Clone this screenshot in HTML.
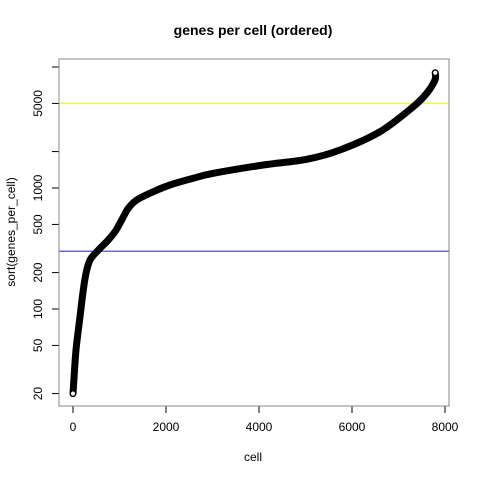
<!DOCTYPE html>
<html><head><meta charset="utf-8"><style>
body{margin:0;background:#fff}
svg{display:block;font-family:"Liberation Sans",sans-serif}
</style></head><body>
<svg id="chart" width="480" height="480" viewBox="0 0 480 480" xmlns="http://www.w3.org/2000/svg">
<rect width="480" height="480" fill="#fff"/>
<text x="253" y="35" text-anchor="middle" font-size="14" font-weight="bold">genes per cell (ordered)</text>
<text x="253" y="461" text-anchor="middle" font-size="12">cell</text>
<text transform="translate(15,232) rotate(-90)" text-anchor="middle" font-size="12">sort(genes_per_cell)</text>
<g id="plot"></g>
<rect x="59" y="59" width="390" height="347" fill="none" stroke="#888" stroke-width="1"/>
</svg>
<script>
const idx = [0,20,65,151,222,280,366,544,725,903,1047,1189,1370,1727,2086,2587,3017,4092,5026,5742,6602,7318,7606,7785,7790];
const genes = [20,26,45.8,86.3,143.5,197,254,307,360,435,544,680,796,932,1059,1203,1323,1549,1727,2061,2920,4698,6063,7810,8970];
const xTicks = [0,2000,4000,6000,8000];
const yTicks = [20,50,100,200,500,1000,2000,5000,10000];
const yTickLabels = ["20","50","100","200","500","1000","","5000",""];
const hLines = [5000,300];
const hColors = ["#ffff00","#6666ff"];

const NS="http://www.w3.org/2000/svg";
const g=document.getElementById('plot');
const X=v=>73+v/2000*93;
const Y=v=>188-Math.log10(v/1000)*121;
function mk(t,a){const e=document.createElementNS(NS,t);for(const k in a)e.setAttribute(k,a[k]);g.appendChild(e);return e;}

hLines.forEach((v,i)=>{
  const l=mk('line',{x1:59,x2:449,y1:Y(v),y2:Y(v),stroke:hColors[i],'stroke-width':1.5});
  
  
});

const P=idx.map((v,i)=>[X(v),Y(genes[i])]);
let d='M'+P[0][0].toFixed(1)+' '+P[0][1].toFixed(1);
for(let i=0;i<P.length-1;i++){
  const p0=P[Math.max(0,i-1)],p1=P[i],p2=P[i+1],p3=P[Math.min(P.length-1,i+2)];
  const c1=[p1[0]+(p2[0]-p0[0])/6,p1[1]+(p2[1]-p0[1])/6];
  const c2=[p2[0]-(p3[0]-p1[0])/6,p2[1]-(p3[1]-p1[1])/6];
  d+=` C${c1[0].toFixed(1)} ${c1[1].toFixed(1)} ${c2[0].toFixed(1)} ${c2[1].toFixed(1)} ${p2[0].toFixed(1)} ${p2[1].toFixed(1)}`;
}
const p=mk('path',{d:d,fill:'none',stroke:'#000','stroke-width':7,'stroke-linejoin':'round','stroke-linecap':'round'});


[0,idx.length-1].forEach(i=>{
  const c=mk('circle',{cx:X(idx[i]),cy:Y(genes[i]),r:2.6,fill:'#fff',stroke:'#000','stroke-width':1});
  
  
});

mk('line',{x1:X(0),x2:X(8000),y1:406,y2:406,stroke:'#000'});
xTicks.forEach(v=>{
  const t=mk('line',{x1:X(v),x2:X(v),y1:406,y2:413,stroke:'#000'});
  
  
  const tx=mk('text',{x:X(v),y:431,'text-anchor':'middle','font-size':12});
  tx.textContent=v;
  
  
});
mk('line',{x1:59,x2:59,y1:Y(10000),y2:Y(20),stroke:'#000'});
yTicks.forEach((v,i)=>{
  const t=mk('line',{x1:52,x2:59,y1:Y(v),y2:Y(v),stroke:'#000'});
  
  
  if(yTickLabels[i]){
    const tx=mk('text',{transform:`translate(42,${Y(v)}) rotate(-90)`,'text-anchor':'middle','font-size':12});
    tx.textContent=yTickLabels[i];
    
    
  }
});
</script>
</body></html>
